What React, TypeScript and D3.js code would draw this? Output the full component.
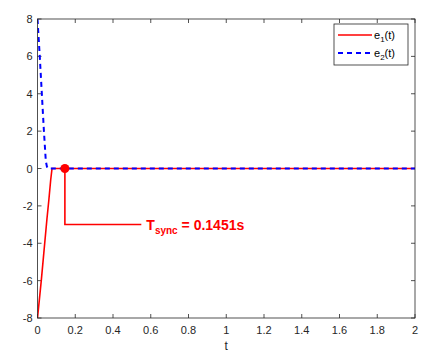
import React from "react";
import * as d3 from "d3";

const e1T = [0, 0.01, 0.02, 0.03, 0.04, 0.05, 0.06, 0.07, 0.077, 0.1, 0.5, 1, 1.5, 2];
const e1V = [-8, -7.0, -6.0, -4.9, -3.8, -2.7, -1.7, -0.6, 0, 0, 0, 0, 0, 0];
const e2T = [0, 0.006, 0.012, 0.023, 0.034, 0.044, 0.05, 0.055, 0.1, 0.5, 1, 1.5, 2];
const e2V = [8, 7, 6, 4, 2, 0.4, 0.1, 0, 0, 0, 0, 0, 0];
const xTicks = [0, 0.2, 0.4, 0.6, 0.8, 1, 1.2, 1.4, 1.6, 1.8, 2];
const yTicks = [-8, -6, -4, -2, 0, 2, 4, 6, 8];
const tSync = 0.1451;
const labelY = -3;
const labelEndX = 0.55;

export default function App() {
  const W = 447, H = 356;
  const L = 37.5, R = 415, T = 19, B = 318;
  const x = d3.scaleLinear().domain([0, 2]).range([L, R]);
  const y = d3.scaleLinear().domain([-8, 8]).range([B, T]);
  const mk = (ts: number[], vs: number[]) =>
    d3.line<number>().x((_, i) => x(ts[i])).y((_, i) => y(vs[i]))(ts as any) || "";
  const font = "'Liberation Sans', Arial, sans-serif";
  return (
    <svg width={W} height={H} style={{ position: "absolute", left: 0, top: 0, background: "#fff" }} fontFamily={font}>
      <rect x={0} y={0} width={W} height={H} fill="#fff" />
      <defs>
        <clipPath id="clip"><rect x={L} y={T} width={R - L} height={B - T} /></clipPath>
      </defs>
      {xTicks.map((t) => (
        <g key={"x" + t}>
          <line x1={x(t)} x2={x(t)} y1={B} y2={B - 4} stroke="#262626" strokeWidth={0.8} />
          <line x1={x(t)} x2={x(t)} y1={T} y2={T + 4} stroke="#262626" strokeWidth={0.8} />
          <text x={x(t)} y={B + 16} fontSize={11} textAnchor="middle" fill="#262626">{String(t)}</text>
        </g>
      ))}
      {yTicks.map((t) => (
        <g key={"y" + t}>
          <line x1={L} x2={L + 4} y1={y(t)} y2={y(t)} stroke="#262626" strokeWidth={0.8} />
          <line x1={R} x2={R - 4} y1={y(t)} y2={y(t)} stroke="#262626" strokeWidth={0.8} />
          <text x={L - 5} y={y(t) + 4} fontSize={11} textAnchor="end" fill="#262626">{String(t)}</text>
        </g>
      ))}
      <text x={(L + R) / 2} y={350} fontSize={12} textAnchor="middle" fill="#262626">t</text>
      <g clipPath="url(#clip)">
        <path d={mk(e1T, e1V)} fill="none" stroke="#ff0000" strokeWidth={1.6} />
        <path d={mk(e2T, e2V)} fill="none" stroke="#0000ff" strokeWidth={2} strokeDasharray="5,4" />
      </g>
      <path
        d={`M${x(tSync)},${y(0)}V${y(labelY)}H${x(labelEndX)}`}
        fill="none" stroke="#ff0000" strokeWidth={1.6}
      />
      <circle cx={x(tSync)} cy={y(0)} r={4.5} fill="#ff0000" />
      <text x={x(labelEndX) + 5} y={y(labelY) + 5} fill="#ff0000" fontSize={14} fontWeight="bold">
        T<tspan fontSize={10} dy={4}>sync</tspan><tspan dy={-4}> = 0.1451s</tspan>
      </text>
      <rect x={L} y={T} width={R - L} height={B - T} fill="none" stroke="#262626" strokeWidth={0.8} />
      <rect x={334} y={24} width={74} height={41} fill="#fff" stroke="#262626" strokeWidth={0.8} />
      <line x1={338} x2={372} y1={35} y2={35} stroke="#ff0000" strokeWidth={1.6} />
      <line x1={338} x2={372} y1={53} y2={53} stroke="#0000ff" strokeWidth={2} strokeDasharray="5,4" />
      <text x={374} y={39} fontSize={11} fill="#000">e<tspan fontSize={8} dy={3}>1</tspan><tspan dy={-3}>(t)</tspan></text>
      <text x={374} y={57} fontSize={11} fill="#000">e<tspan fontSize={8} dy={3}>2</tspan><tspan dy={-3}>(t)</tspan></text>
    </svg>
  );
}
